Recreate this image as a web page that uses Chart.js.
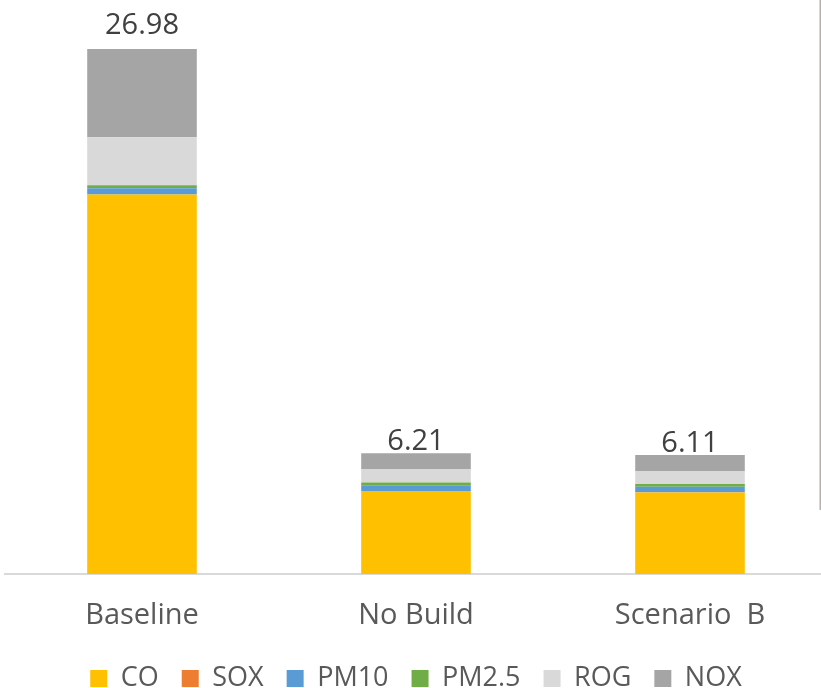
<!DOCTYPE html>
<html>
<head>
<meta charset="utf-8">
<script src="https://cdn.jsdelivr.net/npm/chart.js@4/dist/chart.umd.min.js"></script>
<style>
  html, body { margin: 0; padding: 0; background: #ffffff; overflow: hidden; }
  #wrap { position: relative; width: 827px; height: 702px; }
</style>
</head>
<body>
<div id="wrap"><canvas id="c" width="827" height="702"></canvas></div>
<script>
const categories = ["Baseline", "No Build", "Scenario  B"];
const CO    = [19.50, 4.26, 4.19];
const SOX   = [0.01, 0.01, 0.01];
const PM10  = [0.32, 0.29, 0.28];
const PM25  = [0.15, 0.14, 0.14];
const ROG   = [2.47, 0.69, 0.67];
const NOX   = [4.53, 0.82, 0.82];
const totals = ["26.98", "6.21", "6.11"];

const FONT = "'Open Sans', sans-serif";
const labelGap = [15, 3, 3];

const totalLabels = {
  id: 'totalLabels',
  afterDatasetsDraw(chart) {
    const ctx = chart.ctx;
    const last = chart.getDatasetMeta(chart.data.datasets.length - 1);
    ctx.save();
    ctx.font = "29px " + FONT;
    ctx.fillStyle = "#404040";
    ctx.textAlign = "center";
    ctx.textBaseline = "alphabetic";
    last.data.forEach((bar, i) => {
      ctx.fillText(totals[i], bar.x, bar.y - labelGap[i]);
    });
    ctx.restore();
  }
};

const edgeLine = {
  id: 'edgeLine',
  afterDraw(chart) {
    const ctx = chart.ctx;
    ctx.save();
    ctx.strokeStyle = "#b8b0aa";
    ctx.lineWidth = 1.5;
    ctx.beginPath();
    ctx.moveTo(820.25, 0);
    ctx.lineTo(820.25, 510);
    ctx.stroke();
    ctx.restore();
  }
};

new Chart(document.getElementById('c'), {
  type: 'bar',
  data: {
    labels: categories,
    datasets: [
      { label: 'CO',    data: CO,   backgroundColor: '#FFC000' },
      { label: 'SOX',   data: SOX,  backgroundColor: '#ED7D31' },
      { label: 'PM10',  data: PM10, backgroundColor: '#5B9BD5' },
      { label: 'PM2.5', data: PM25, backgroundColor: '#70AD47' },
      { label: 'ROG',   data: ROG,  backgroundColor: '#D9D9D9' },
      { label: 'NOX',   data: NOX,  backgroundColor: '#A5A5A5' }
    ]
  },
  options: {
    responsive: false,
    animation: false,
    layout: { padding: { left: 5, right: 0, top: 0, bottom: 0 } },
    datasets: { bar: { categoryPercentage: 1.0, barPercentage: 0.4, borderWidth: 0 } },
    scales: {
      x: {
        stacked: true,
        grid: { display: false, drawTicks: false },
        border: { display: true, color: '#d9d9d9', width: 2 },
        ticks: { color: '#595959', font: { family: FONT, size: 29 }, padding: 24 },
        afterFit(scale) { scale.height = 68; }
      },
      y: {
        stacked: true,
        display: false,
        min: 0,
        max: 29.5
      }
    },
    plugins: {
      legend: {
        position: 'bottom',
        labels: {
          color: '#595959',
          font: { family: FONT, size: 27 },
          boxWidth: 17,
          boxHeight: 17,
          padding: 23
        }
      },
      tooltip: { enabled: false }
    }
  },
  plugins: [totalLabels, edgeLine]
});
</script>
</body>
</html>
